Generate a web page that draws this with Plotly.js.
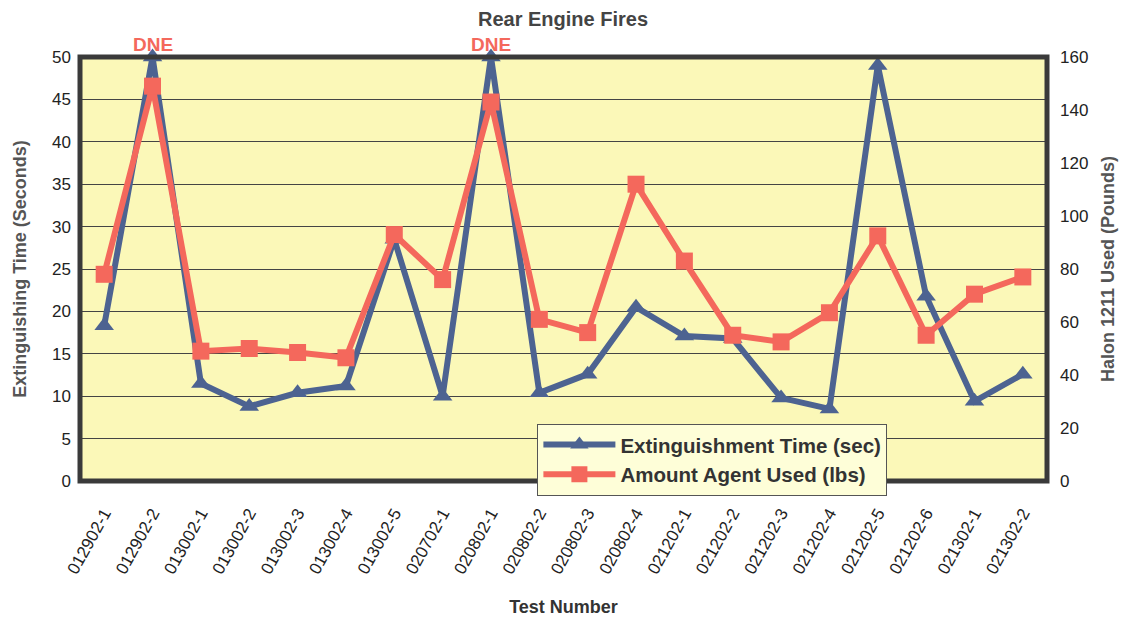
<!DOCTYPE html>
<html>
<head>
<meta charset="utf-8">
<script src="https://cdn.plot.ly/plotly-3.0.1.min.js"></script>
<style>html,body{margin:0;padding:0;background:#fff}#chart{width:1126px;height:624px}</style>
</head>
<body>
<div id="chart"></div>
<script>
const testNumbers = ["012902-1","012902-2","013002-1","013002-2","013002-3","013002-4","013002-5","020702-1","020802-1","020802-2","020802-3","020802-4","021202-1","021202-2","021202-3","021202-4","021202-5","021202-6","021302-1","021302-2"];
const extinguishTime = [18.3, 50, 11.5, 8.8, 10.4, 11.2, 28.5, 10.0, 50, 10.4, 12.6, 20.5, 17.1, 16.8, 9.8, 8.5, 49, 21.8, 9.4, 12.6];
const agentUsed = [78, 149, 49, 50, 48.5, 46.5, 93, 76, 143, 61, 56, 112, 83, 55, 52.5, 63.5, 92.5, 55, 70.5, 77];
const dneTests = ["012902-2","020802-1"];

const blue = '#4d6391';
const red = '#f4685c';

const traces = [
  {x: testNumbers, y: extinguishTime, name: 'Extinguishment Time (sec)', type: 'scatter', mode: 'lines+markers',
   line: {color: blue, width: 6}, marker: {symbol: 'triangle-up', size: 17, color: blue}, yaxis: 'y', cliponaxis: false},
  {x: testNumbers, y: agentUsed, name: 'Amount Agent Used (lbs)', type: 'scatter', mode: 'lines+markers',
   line: {color: red, width: 6}, marker: {symbol: 'square', size: 17, color: red}, yaxis: 'y2', cliponaxis: false}
];

const font = 'Arial, "Liberation Sans", sans-serif';
const layout = {
  width: 1126, height: 624,
  margin: {l: 80, r: 79, t: 57, b: 143},
  paper_bgcolor: '#ffffff',
  plot_bgcolor: '#fbf8b8',
  font: {family: font, color: '#222', size: 16},
  title: {text: '<b>Rear Engine Fires</b>', font: {size: 20, color: '#444', family: font}, x: 0.5, xanchor: 'center', y: 0.97, yanchor: 'middle'},
  showlegend: true,
  legend: {x: 0.473, xanchor: 'left', y: 0.135, yanchor: 'top', bgcolor: '#fefed8', bordercolor: '#555', borderwidth: 1,
           font: {size: 20.5, color: '#333', family: font, weight: 'bold'}, itemwidth: 72, tracegroupgap: 0},
  xaxis: {type: 'category', tickangle: -61, tickfont: {size: 17, color: '#222'}, showgrid: false, zeroline: false,
          showline: false, ticks: '', range: [-0.5, 19.5], ticklabelstandoff: 18,
          title: {text: '<b>Test Number</b>', font: {size: 18, color: '#333'}, standoff: 24}},
  yaxis: {range: [0, 50], dtick: 5, showgrid: true, gridcolor: '#444', gridwidth: 1, zeroline: false, ticks: '',
          tickfont: {size: 17, color: '#222'}, showline: false, ticklabelstandoff: 8,
          title: {text: '<b>Extinguishing Time (Seconds)</b>', font: {size: 18, color: '#555'}, standoff: 20}},
  yaxis2: {range: [0, 160], dtick: 20, overlaying: 'y', side: 'right', showgrid: false, zeroline: false, ticks: '',
           tickfont: {size: 17, color: '#222'}, showline: false, ticklabelstandoff: 12,
           title: {text: '<b>Halon 1211 Used (Pounds)</b>', font: {size: 18, color: '#555'}, standoff: 14}},
  shapes: [
    {type: 'rect', xref: 'paper', yref: 'paper', x0: 0, x1: 1, y0: 0, y1: 1, line: {color: '#3a3a3a', width: 5}, layer: 'above'}
  ],
  annotations: dneTests.map(t => ({x: t, y: 1, xref: 'x', yref: 'paper', yanchor: 'bottom', yshift: 0, text: '<b>DNE</b>', showarrow: false,
      font: {size: 19, color: red, family: font}}))
};

Plotly.newPlot('chart', traces, layout, {displayModeBar: false, staticPlot: true});
</script>
</body>
</html>
